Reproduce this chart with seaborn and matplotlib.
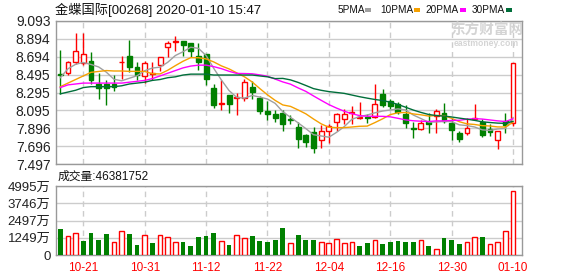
import numpy as np
import pandas as pd
import matplotlib
matplotlib.use("Agg")
import matplotlib.pyplot as plt
import seaborn as sns

# ---------------- data ----------------
dates = ["10-16", "10-17", "10-18", "10-21", "10-22", "10-23", "10-24", "10-25", "10-28", "10-29",
         "10-30", "10-31", "11-01", "11-04", "11-05", "11-06", "11-07", "11-08", "11-11", "11-12",
         "11-13", "11-14", "11-15", "11-18", "11-19", "11-20", "11-21", "11-22", "11-25", "11-26",
         "11-27", "11-28", "11-29", "12-02", "12-03", "12-04", "12-05", "12-06", "12-09", "12-10",
         "12-11", "12-12", "12-13", "12-16", "12-17", "12-18", "12-19", "12-20", "12-23", "12-24",
         "12-27", "12-30", "12-31", "01-02", "01-03", "01-06", "01-07", "01-08", "01-09", "01-10"]

opens = [8.50, 8.51, 8.64, 8.62, 8.65, 8.39, 8.39, 8.39, 8.63, 8.70,
         8.58, 8.48, 8.50, 8.60, 8.80, 8.86, 8.87, 8.85, 8.70, 8.72,
         8.35, 8.17, 8.27, 8.23, 8.23, 8.36, 8.23, 8.09, 8.05, 8.07,
         8.00, 7.91, 7.82, 7.85, 7.77, 7.86, 7.97, 8.00, 8.07, 8.01,
         8.02, 8.02, 8.28, 8.20, 8.17, 8.05, 7.90, 7.89, 7.97, 8.03,
         8.07, 7.96, 7.84, 7.84, 8.00, 7.97, 7.89, 7.77, 7.98, 7.96]
highs = [8.77, 8.65, 8.96, 8.96, 8.75, 8.51, 8.44, 8.49, 8.70, 8.88,
         8.64, 8.65, 8.63, 8.69, 8.87, 8.93, 8.87, 8.85, 8.85, 8.73,
         8.39, 8.44, 8.27, 8.29, 8.45, 8.42, 8.26, 8.20, 8.10, 8.10,
         8.04, 7.97, 7.83, 7.91, 7.93, 7.94, 8.07, 8.11, 8.14, 8.19,
         8.05, 8.39, 8.33, 8.22, 8.19, 8.15, 7.97, 7.99, 8.07, 8.11,
         8.18, 8.01, 7.87, 8.01, 8.17, 8.00, 7.94, 7.86, 8.07, 8.62]
lows = [8.28, 8.49, 8.61, 8.60, 8.39, 8.22, 8.16, 8.31, 8.45, 8.52,
        8.44, 8.40, 8.43, 8.54, 8.69, 8.76, 8.70, 8.69, 8.55, 8.38,
        8.12, 8.10, 8.07, 8.04, 8.20, 8.22, 8.06, 7.99, 7.97, 7.87,
        7.94, 7.68, 7.69, 7.62, 7.68, 7.73, 7.86, 7.94, 7.94, 8.00,
        7.96, 8.01, 8.13, 8.11, 8.05, 7.90, 7.79, 7.88, 7.84, 7.84,
        7.96, 7.76, 7.74, 7.82, 7.99, 7.80, 7.81, 7.66, 7.84, 7.92]
closes = [8.49, 8.63, 8.76, 8.72, 8.44, 8.35, 8.34, 8.36, 8.64, 8.58,
          8.49, 8.62, 8.51, 8.69, 8.85, 8.87, 8.83, 8.76, 8.63, 8.45,
          8.15, 8.18, 8.17, 8.25, 8.41, 8.30, 8.09, 8.06, 8.01, 7.94,
          7.99, 7.78, 7.74, 7.67, 7.87, 7.92, 8.05, 8.06, 8.08, 8.02,
          8.01, 8.17, 8.16, 8.14, 8.08, 7.95, 7.89, 7.96, 7.94, 8.09,
          7.98, 7.88, 7.78, 7.90, 8.01, 7.82, 7.85, 7.86, 7.93, 8.62]
# volume in 万 shares
volume = [1882, 1375, 1592, 1036, 1616, 1109, 1544, 965, 1737, 1544,
          747, 1448, 893, 1448, 1303, 941, 965, 652, 1303, 1399,
          1616, 1013, 747, 1448, 1231, 1375, 1036, 965, 1109, 1978,
          893, 1448, 1086, 1086, 941, 869, 1134, 869, 941, 652,
          869, 1086, 796, 965, 1013, 941, 941, 1086, 652, 410,
          1231, 1086, 796, 941, 1279, 1303, 796, 941, 1713, 4638]

# moving-average values at the start of the window (read from the chart,
# they depend on sessions before the first candle)
ma5_head = [8.46, 8.56, 8.61, 8.63]
ma10_head = [8.36, 8.40, 8.44, 8.48, 8.52, 8.53, 8.54, 8.535, 8.535]
ma20_head = [8.35, 8.38, 8.39, 8.40, 8.40, 8.40, 8.40, 8.40, 8.40, 8.41,
             8.42, 8.43, 8.45, 8.48, 8.51, 8.54, 8.57, 8.59, 8.60]
ma30_head = [8.28, 8.30, 8.32, 8.35, 8.36, 8.36, 8.36, 8.36, 8.37, 8.39,
             8.40, 8.41, 8.43, 8.44, 8.46, 8.47, 8.49, 8.50, 8.50, 8.50,
             8.49, 8.49, 8.49, 8.49, 8.49, 8.49, 8.48, 8.47, 8.45]

price_tick_labels = ["7.497", "7.696", "7.896", "8.095", "8.295", "8.495", "8.694", "8.894", "9.093"]
vol_tick_values = [0, 1249, 2497, 3746, 4995]
vol_tick_labels = ["0", "1249万", "2497万", "3746万", "4995万"]

title_text = "金蝶国际[00268] 2020-01-10 15:47"
vol_title = "成交量:46381752"
ma_names = ["5PMA", "10PMA", "20PMA", "30PMA"]

# ---------------- style ----------------
plt.rcParams['font.family'] = ['Liberation Sans', 'Noto Sans CJK SC']
RED = "#ff0000"
GREEN = "#008000"
MA_COLORS = ["#a0a0a0", "#f5a000", "#ff00ff", "#006e3a"]
GRID = "#cccccc"
SPINE = "#999999"

W, H = 578, 276
fig = plt.figure(figsize=(W / 100, H / 100), dpi=100)
ax = fig.add_axes([56 / W, 1 - 164 / H, 466 / W, 143 / H])
axv = fig.add_axes([56 / W, 1 - 255 / H, 466 / W, 69 / H])

n = len(closes)
idx = np.arange(n)
o = np.array(opens); c = np.array(closes); hi = np.array(highs); lo = np.array(lows)
up = c >= o

# ---- price panel ----
ax.vlines(idx, lo, hi, colors=[RED if u else GREEN for u in up], linewidth=1, zorder=2)
body_h = np.where(np.abs(c - o) < 0.004, 0.004, c - o)
ax.bar(idx, body_h, bottom=o, width=0.64,
       facecolor=["white" if u else GREEN for u in up],
       edgecolor=[RED if u else GREEN for u in up], linewidth=1, zorder=3)

cs = pd.Series(c)
mas = []
for win, head in zip([5, 10, 20, 30], [ma5_head, ma10_head, ma20_head, ma30_head]):
    m = cs.rolling(win).mean().to_numpy()
    m[:len(head)] = head
    mas.append(m)
for m, col in zip(mas, MA_COLORS):
    sns.lineplot(x=idx, y=m, ax=ax, color=col, linewidth=1.0, zorder=4, legend=False)

ax.set_xlim(-0.56, n + 0.17)
ax.set_ylim(7.497, 9.093)
ax.set_yticks(np.linspace(7.497, 9.093, len(price_tick_labels)))
ax.set_yticklabels(price_tick_labels)
tick_pos = list(range(3, n, 8))
ax.set_xticks(tick_pos)
ax.set_xticklabels([])
ax.set_xlabel(""); ax.set_ylabel("")
ax.grid(axis='y', color=GRID, linewidth=1, linestyle='-', zorder=0)
ax.grid(axis='x', color=GRID, linewidth=1, linestyle=(0, (4, 3)), zorder=0)
ax.set_axisbelow(True)

# ---- volume panel ----
prev = np.concatenate([[np.nan], c[:-1]])
vol_up = np.where(np.isnan(prev), up, c >= prev)
df = pd.DataFrame({"i": idx, "vol": volume, "up": vol_up})
n0 = len(axv.patches)
sns.barplot(data=df[df.up], x="i", y="vol", native_scale=True, fill=False,
            color=RED, width=0.62, linewidth=1, errorbar=None, ax=axv, zorder=3)
n1 = len(axv.patches)
sns.barplot(data=df[~df.up], x="i", y="vol", native_scale=True, fill=True,
            color=GREEN, width=0.62, linewidth=0, saturation=1, errorbar=None, ax=axv, zorder=3)
for k, p in enumerate(axv.patches):
    if n0 <= k < n1:
        p.set_facecolor("white"); p.set_edgecolor(RED); p.set_linewidth(1)
    else:
        p.set_facecolor(GREEN); p.set_edgecolor(GREEN)

axv.set_xlim(-0.56, n + 0.17)
axv.set_ylim(0, 4995)
axv.set_yticks(vol_tick_values)
axv.set_yticklabels(vol_tick_labels)
axv.set_xticks(tick_pos)
axv.set_xticklabels([dates[i] for i in tick_pos], color=RED)
axv.set_xlabel(""); axv.set_ylabel("")
axv.grid(axis='y', color=GRID, linewidth=1, linestyle='-', zorder=0)
axv.grid(axis='x', color=GRID, linewidth=1, linestyle=(0, (4, 3)), zorder=0)
axv.set_axisbelow(True)

for a in (ax, axv):
    a.set_facecolor("white")
    for s in a.spines.values():
        s.set_color(SPINE); s.set_linewidth(1)
    a.tick_params(length=0, pad=4, labelsize=10, labelcolor="#222222")
axv.tick_params(axis='y', labelsize=9.5)
axv.tick_params(axis='x', pad=5, labelsize=8.5, labelcolor=RED)

# ---- texts ----
def px(x, y):
    return x / W, 1 - y / H

fig.text(*px(55, 10), title_text, fontsize=9.5, va='center', ha='left', color="#111111")
fig.text(*px(58, 177), vol_title, fontsize=8.5, va='center', ha='left', color="#111111")

leg_x = [338, 380, 425, 472]
for name, col, lx in zip(ma_names, MA_COLORS, leg_x):
    fig.text(*px(lx, 10), name, fontsize=7.2, va='center', ha='left', color="#111111")
for col, bx in zip(MA_COLORS, [365, 414, 460, 506]):
    fig.patches.append(plt.Rectangle(px(bx, 11.5), 6 / W, 3 / H, transform=fig.transFigure,
                                     facecolor=col, edgecolor='none'))

# watermark
fig.text(*px(487, 31), "东方财富网", fontsize=10.5, fontweight='bold', color="#d4d4d4",
         ha='center', va='center')
fig.text(*px(486, 43.5), "eastmoney.com", fontsize=6.2, fontweight='bold', color="#d4d4d4",
         ha='center', va='center')

fig.savefig("out.png", dpi=100)
